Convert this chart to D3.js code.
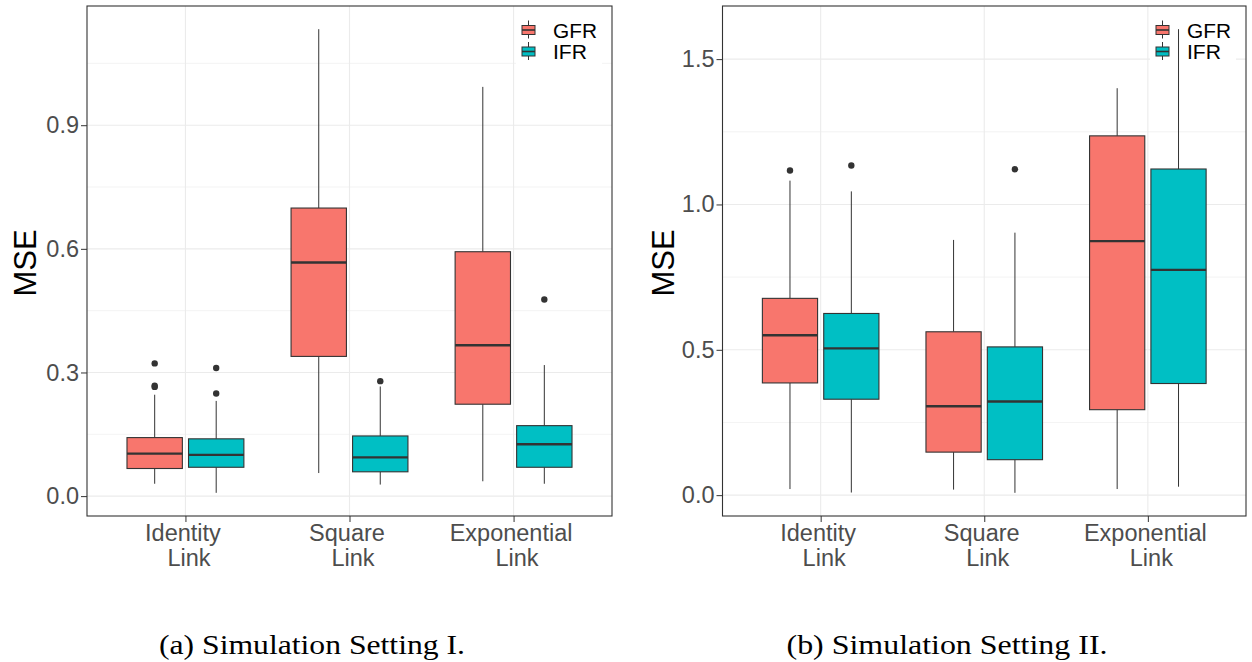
<!DOCTYPE html>
<html>
<head>
<meta charset="utf-8">
<script src="https://cdn.jsdelivr.net/npm/d3@7"></script>
<style>
  body { margin: 0; background: #fff; }
  svg { display: block; font-family: "Liberation Sans", Arial, sans-serif; }
</style>
</head>
<body>
<div id="graf"></div>
<script>
// Data
const categories = ["Identity Link", "Square Link", "Exponential Link"]
const groups = ["GFR", "IFR"]
const colors = ["#F8766D", "#00BFC4"]

// [lower whisker, q1, median, q3, upper whisker] per category
const setting1GFR = [
  [0.030, 0.067, 0.103, 0.142, 0.246],
  [0.056, 0.339, 0.567, 0.699, 1.133],
  [0.036, 0.223, 0.366, 0.593, 0.993],
]
const setting1IFR = [
  [0.008, 0.070, 0.100, 0.139, 0.231],
  [0.028, 0.059, 0.094, 0.146, 0.266],
  [0.030, 0.070, 0.126, 0.171, 0.318],
]
const setting1GFROut = [[0.322, 0.268, 0.265], [], []]
const setting1IFROut = [[0.311, 0.249], [0.279], [0.477]]

const setting2GFR = [
  [0.021, 0.386, 0.550, 0.677, 1.082],
  [0.019, 0.148, 0.306, 0.562, 0.878],
  [0.021, 0.294, 0.874, 1.236, 1.400],
]
const setting2IFR = [
  [0.009, 0.330, 0.505, 0.625, 1.045],
  [0.008, 0.122, 0.322, 0.510, 0.903],
  [0.029, 0.384, 0.775, 1.122, 1.603],
]
const setting2GFROut = [[1.117], [], []]
const setting2IFROut = [[1.134], [1.121], []]

const ticks1 = [0, 0.3, 0.6, 0.9]
const ticks2 = [0, 0.5, 1.0, 1.5]
const caption1 = "(a) Simulation Setting I."
const caption2 = "(b) Simulation Setting II."

const svg = d3.select("#graf").append("svg")
  .attr("width", 1252)
  .attr("height", 662)

const drawPanel = (p) => {
  const ancho = p.right - p.left
  const alto = p.bottom - p.top
  const g = svg.append("g").attr("transform", `translate(${p.left}, ${p.top})`)

  const all = [...p.stats[0].flat(), ...p.stats[1].flat(), ...p.outs[0].flat(), ...p.outs[1].flat()]
  const [mn, mx] = d3.extent(all)
  const pad = (mx - mn) * 0.05

  // Escaladores
  const y = d3.scaleLinear().domain([mn - pad, mx + pad]).range([alto, 0])
  const x = d3.scalePoint().domain(categories).range([0, ancho]).padding(0.6)
  const s = x.step()
  const xg = d3.scaleBand().domain(groups)
    .range([-0.375 * s, 0.375 * s]).paddingInner(0.1).paddingOuter(0.05)

  // grid
  const step = p.ticks[1] - p.ticks[0]
  const minors = []
  for (let v = p.ticks[0] - step / 2; v < mx + pad; v += step) {
    if (v > mn - pad) minors.push(v)
  }
  g.selectAll(".minor").data(minors).join("line")
    .attr("x1", 0).attr("x2", ancho)
    .attr("y1", d => y(d)).attr("y2", d => y(d))
    .attr("stroke", "#EBEBEB").attr("stroke-width", 0.6)
  g.selectAll(".major").data(p.ticks).join("line")
    .attr("x1", 0).attr("x2", ancho)
    .attr("y1", d => y(d)).attr("y2", d => y(d))
    .attr("stroke", "#EBEBEB").attr("stroke-width", 1.1)
  g.selectAll(".vmajor").data(categories).join("line")
    .attr("x1", d => x(d)).attr("x2", d => x(d))
    .attr("y1", 0).attr("y2", alto)
    .attr("stroke", "#EBEBEB").attr("stroke-width", 1.1)

  // legend background
  const lx = ancho - 90
  g.append("rect")
    .attr("x", lx - 6).attr("y", 4)
    .attr("width", 86).attr("height", 54)
    .attr("fill", "#fff")

  // boxes
  groups.forEach((grp, gi) => {
    const bw = xg.bandwidth()
    const boxes = g.append("g")
    p.stats[gi].forEach((st, ci) => {
      const cx = x(categories[ci]) + xg(grp) + bw / 2
      const [lo, q1, med, q3, hi] = st
      boxes.append("line")
        .attr("x1", cx).attr("x2", cx).attr("y1", y(hi)).attr("y2", y(q3))
        .attr("stroke", "#333").attr("stroke-width", 1)
      boxes.append("line")
        .attr("x1", cx).attr("x2", cx).attr("y1", y(q1)).attr("y2", y(lo))
        .attr("stroke", "#333").attr("stroke-width", 1)
      boxes.append("rect")
        .attr("x", cx - bw / 2).attr("y", y(q3))
        .attr("width", bw).attr("height", y(q1) - y(q3))
        .attr("fill", colors[gi]).attr("stroke", "#333").attr("stroke-width", 1.1)
      boxes.append("line")
        .attr("x1", cx - bw / 2).attr("x2", cx + bw / 2)
        .attr("y1", y(med)).attr("y2", y(med))
        .attr("stroke", "#333").attr("stroke-width", 2.4)
      boxes.selectAll(null).data(p.outs[gi][ci]).join("circle")
        .attr("cx", cx).attr("cy", d => y(d)).attr("r", 3.2)
        .attr("fill", "#333")
    })
  })

  // panel border
  g.append("rect")
    .attr("x", 0).attr("y", 0).attr("width", ancho).attr("height", alto)
    .attr("fill", "none").attr("stroke", "#333").attr("stroke-width", 1.1)

  // legend
  groups.forEach((grp, gi) => {
    const ky = 18.5 + gi * 21.5
    const kg = g.append("g").attr("transform", `translate(${lx}, ${ky})`)
    kg.append("line").attr("x1", 6.5).attr("x2", 6.5).attr("y1", -4).attr("y2", 14)
      .attr("stroke", "#333").attr("stroke-width", 1)
    kg.append("rect").attr("x", 0).attr("y", 1).attr("width", 13).attr("height", 9)
      .attr("fill", colors[gi]).attr("stroke", "#333").attr("stroke-width", 1)
    kg.append("line").attr("x1", 0).attr("x2", 13).attr("y1", 5.5).attr("y2", 5.5)
      .attr("stroke", "#333").attr("stroke-width", 1.6)
    g.append("text")
      .attr("x", lx + 31).attr("y", ky + 13)
      .attr("font-size", 19.5).attr("fill", "#000")
      .attr("textLength", grp === "GFR" ? 44 : 34).attr("lengthAdjust", "spacingAndGlyphs")
      .text(grp)
  })

  // axes
  const ay = g.append("g")
    .call(d3.axisLeft(y).tickValues(p.ticks).tickSize(6).tickPadding(2).tickFormat(d3.format(".1f")))
  ay.select(".domain").remove()
  ay.selectAll("line").attr("stroke", "#333")
  ay.selectAll("text").attr("font-size", 23.5).attr("fill", "#4D4D4D")
    .attr("font-family", "Liberation Sans, Arial, sans-serif")

  const ax = g.append("g").attr("transform", `translate(0, ${alto})`)
    .call(d3.axisBottom(x).tickSize(6))
  ax.select(".domain").remove()
  ax.selectAll("line").attr("stroke", "#333")
  ax.selectAll("text").each(function (d) {
    const t = d3.select(this).text("").attr("y", 0).attr("dy", null)
      .attr("font-size", 23.5).attr("fill", "#4D4D4D")
      .attr("font-family", "Liberation Sans, Arial, sans-serif")
    const parts = d.split(" ")
    t.append("tspan").attr("x", -3).attr("y", 25).text(parts[0])
    t.append("tspan").attr("x", 3).attr("y", 50).text(parts[1])
  })

  // y title
  g.append("text")
    .attr("transform", `translate(${p.titleX - p.left}, ${alto / 2 + 2}) rotate(-90)`)
    .attr("text-anchor", "middle")
    .attr("font-size", 31).attr("fill", "#000")
    .text("MSE")

  // caption
  svg.append("text")
    .attr("x", p.capX).attr("y", 654)
    .attr("text-anchor", "middle")
    .attr("font-family", "Liberation Serif, 'DejaVu Serif', serif")
    .attr("font-size", 28).attr("fill", "#000")
    .attr("textLength", p.capW).attr("lengthAdjust", "spacingAndGlyphs")
    .text(p.caption)
}

drawPanel({
  left: 87, right: 612, top: 6, bottom: 516, titleX: 36,
  stats: [setting1GFR, setting1IFR], outs: [setting1GFROut, setting1IFROut],
  ticks: ticks1, caption: caption1, capX: 312, capW: 306,
})
drawPanel({
  left: 722.5, right: 1246, top: 6, bottom: 516, titleX: 674,
  stats: [setting2GFR, setting2IFR], outs: [setting2GFROut, setting2IFROut],
  ticks: ticks2, caption: caption2, capX: 947, capW: 321,
})
</script>
</body>
</html>
